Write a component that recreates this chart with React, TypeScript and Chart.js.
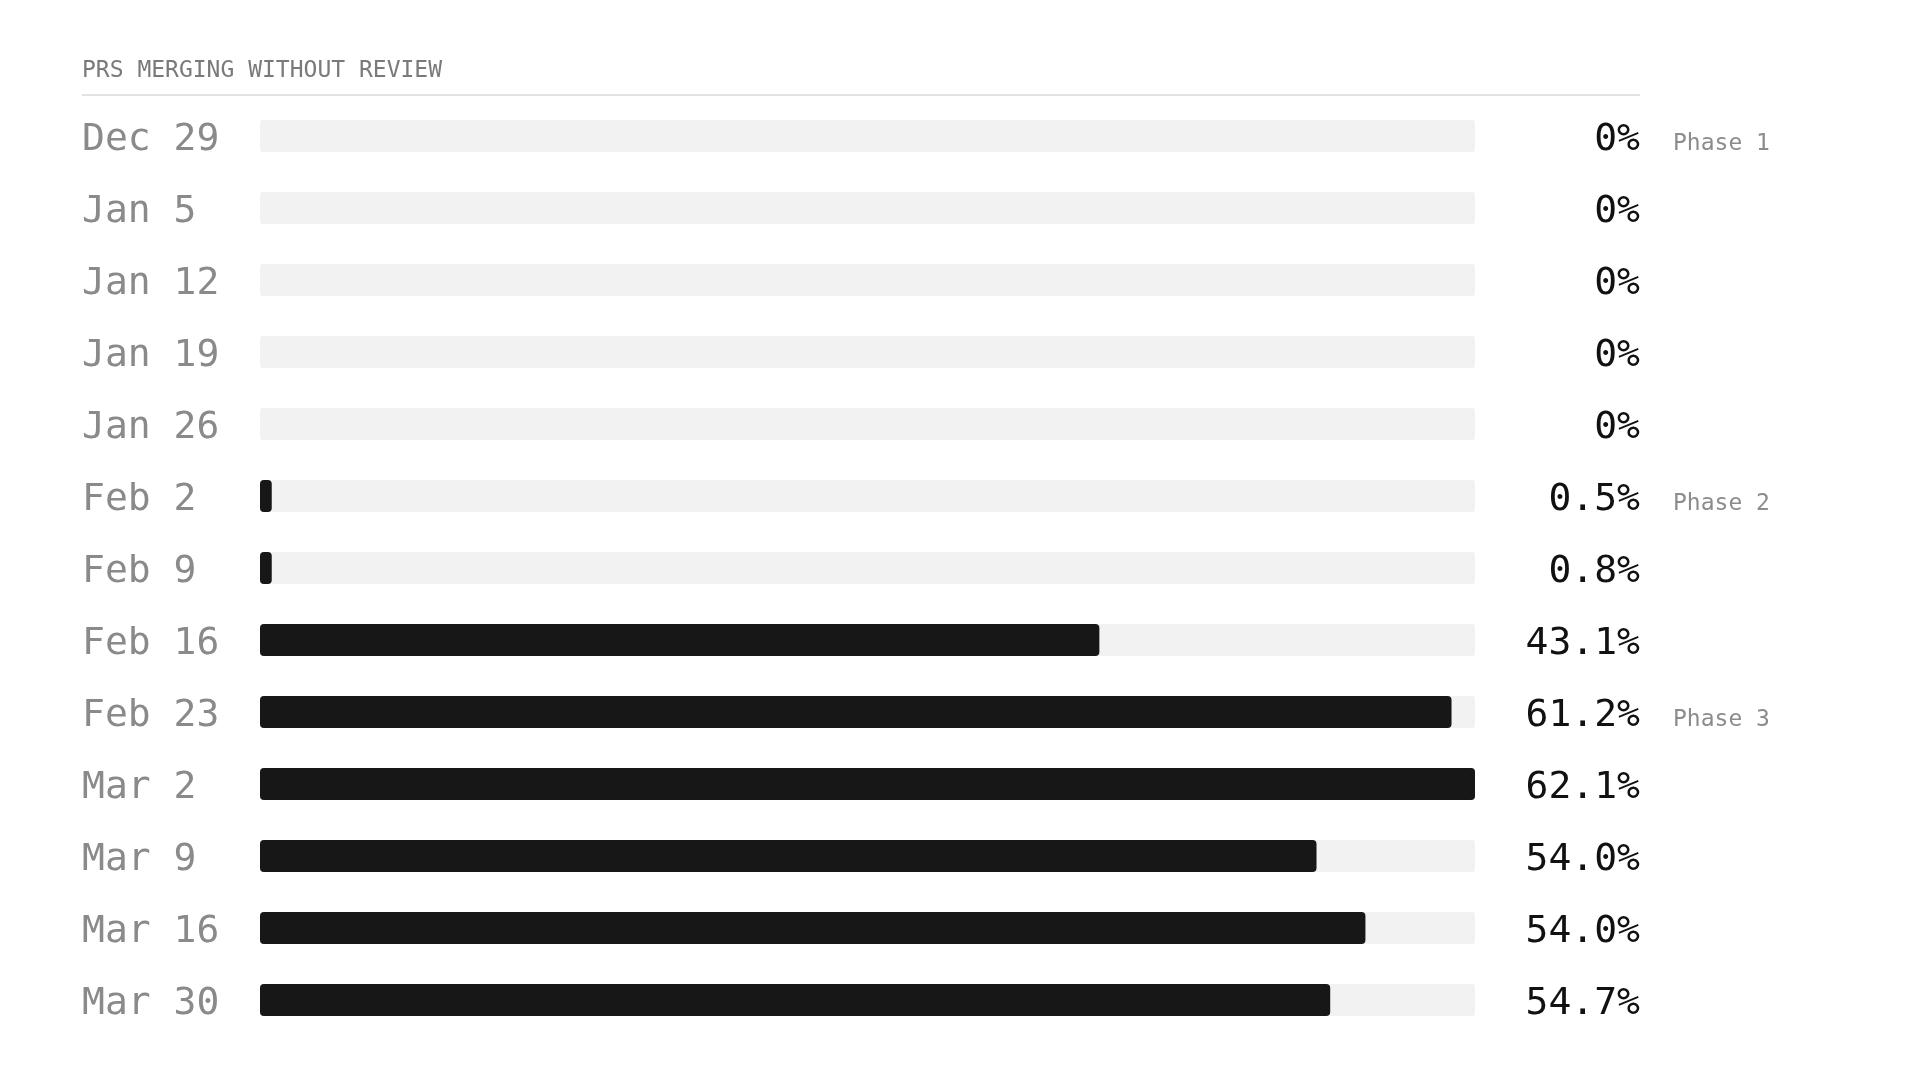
import { useEffect, useRef } from 'react';
import { Chart, registerables, Plugin } from 'chart.js';

Chart.register(...registerables);

// weeks shown on the left
const weeks = [
  'Dec 29', 'Jan 5', 'Jan 12', 'Jan 19', 'Jan 26', 'Feb 2', 'Feb 9',
  'Feb 16', 'Feb 23', 'Mar 2', 'Mar 9', 'Mar 16', 'Mar 30',
];

// bar lengths as drawn (share of PRs merged without review, %)
const unreviewedShare = [0, 0, 0, 0, 0, 0.6, 0.6, 42.9, 60.9, 62.1, 54.0, 56.5, 54.7];

// printed value next to each bar
const valueLabels = [
  '0%', '0%', '0%', '0%', '0%', '0.5%', '0.8%',
  '43.1%', '61.2%', '62.1%', '54.0%', '54.0%', '54.7%',
];

const phaseLabels = ['Phase 1', '', '', '', '', 'Phase 2', '', '', 'Phase 3', '', '', '', ''];

const scaleMax = 62.1;
const trackValues = weeks.map(() => scaleMax);

const MONO = '"DejaVu Sans Mono", "Liberation Mono", monospace';

const sidePlugin: Plugin<'bar'> = {
  id: 'sideText',
  afterDatasetsDraw(chart) {
    const { ctx, chartArea } = chart;
    const yScale = chart.scales.y;
    ctx.save();

    // title + rule
    ctx.font = `23px ${MONO}`;
    ctx.fillStyle = '#7a7a7a';
    ctx.textAlign = 'left';
    ctx.textBaseline = 'alphabetic';
    ctx.fillText('PRS MERGING WITHOUT REVIEW', 82, 77);
    ctx.fillStyle = '#e2e2e2';
    ctx.fillRect(82, 94, 1640 - 82, 2);

    weeks.forEach((_, i) => {
      const y = yScale.getPixelForValue(i);
      ctx.font = `38px ${MONO}`;
      ctx.fillStyle = '#111111';
      ctx.textAlign = 'right';
      ctx.fillText(valueLabels[i], chartArea.right + 165, y + 14);
      if (phaseLabels[i]) {
        ctx.font = `23px ${MONO}`;
        ctx.fillStyle = '#8c8c8c';
        ctx.textAlign = 'left';
        ctx.fillText(phaseLabels[i], chartArea.right + 198, y + 14);
      }
    });
    ctx.restore();
  },
};

export default function App() {
  const canvasRef = useRef<HTMLCanvasElement>(null);

  useEffect(() => {
    if (!canvasRef.current) return;
    const chart = new Chart(canvasRef.current, {
      type: 'bar',
      data: {
        labels: weeks,
        datasets: [
          {
            data: unreviewedShare,
            backgroundColor: '#171717',
            borderRadius: 4,
            borderSkipped: false,
            inflateAmount: 0,
            barThickness: 32,
            grouped: false,
            order: 0,
          },
          {
            data: trackValues,
            backgroundColor: '#f2f2f2',
            borderRadius: 3,
            borderSkipped: false,
            inflateAmount: 0,
            barThickness: 32,
            grouped: false,
            order: 1,
          },
        ],
      },
      options: {
        indexAxis: 'y',
        animation: false,
        responsive: true,
        maintainAspectRatio: false,
        layout: { padding: { left: 82, right: 445, top: 100, bottom: 44 } },
        plugins: {
          legend: { display: false },
          tooltip: { enabled: false },
        },
        scales: {
          x: { display: false, min: 0, max: scaleMax },
          y: {
            grid: { display: false },
            border: { display: false },
            ticks: {
              crossAlign: 'far',
              labelOffset: 4,
              color: '#8a8a8a',
              font: { family: MONO, size: 38 },
            },
            afterFit: (scale) => {
              scale.width = 178;
            },
          },
        },
      },
      plugins: [sidePlugin],
    });
    return () => chart.destroy();
  }, []);

  return (
    <div style={{ position: 'fixed', left: 0, top: 0, width: 1920, height: 1080, background: '#ffffff' }}>
      <canvas ref={canvasRef} />
    </div>
  );
}
